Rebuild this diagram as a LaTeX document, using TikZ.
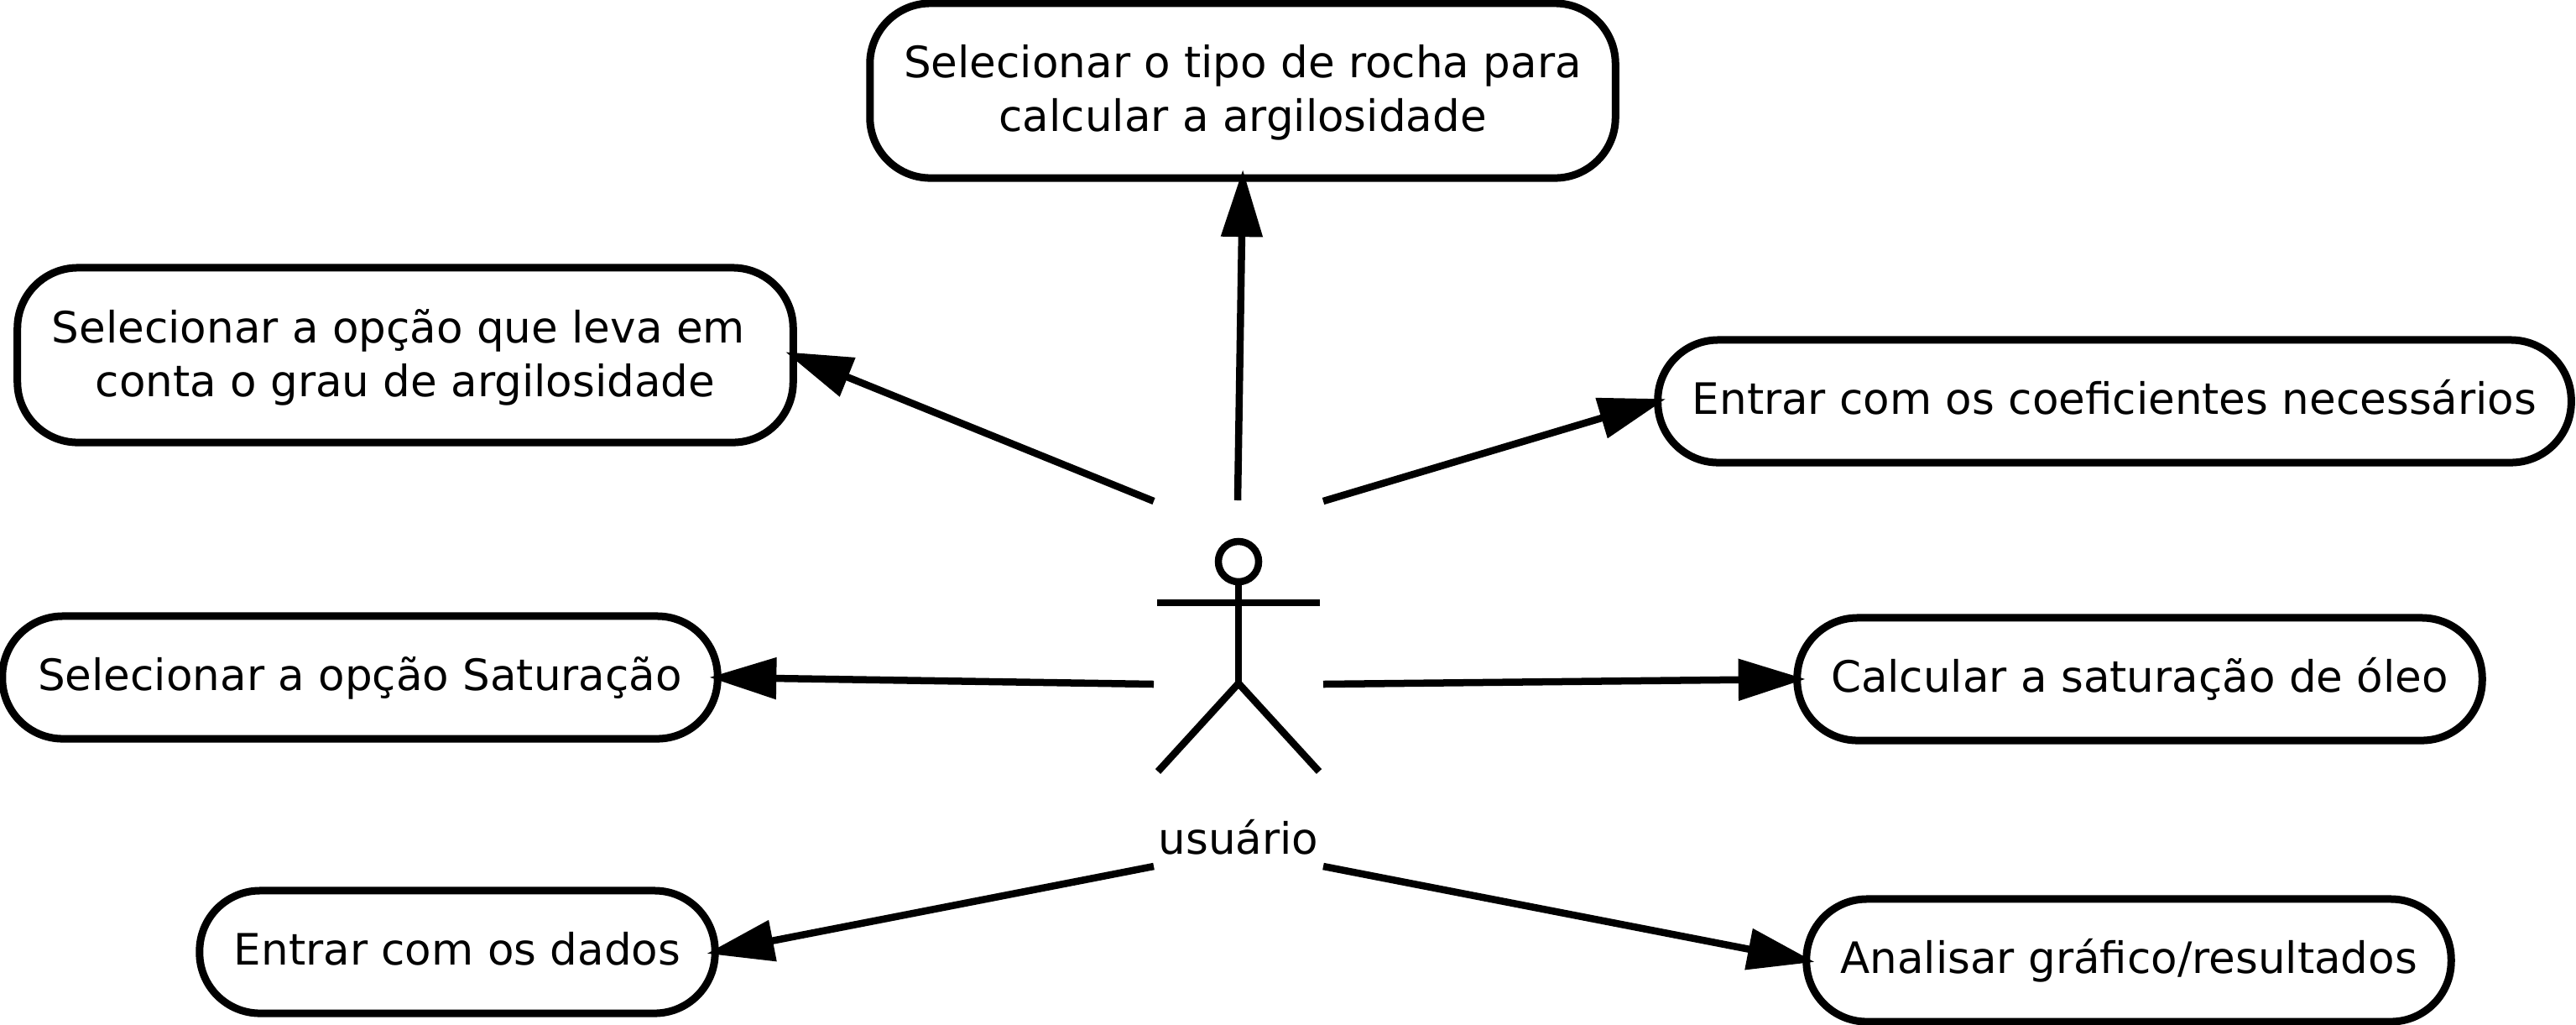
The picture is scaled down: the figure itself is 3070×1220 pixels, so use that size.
\documentclass[tikz,border=0pt]{standalone}
\usepackage{fontspec}
\setmainfont{DejaVu Sans}
\usetikzlibrary{arrows.meta}
\tikzset{
    usecase/.style={draw, line width=0.09cm, rounded corners=0.72cm, outer sep=0pt, inner sep=0pt, align=center, font=\fontsize{14.65}{18.2}\selectfont},
    oneline/.style={usecase, minimum height=1.46cm, text height=12.4pt, text depth=3.4pt},
    twolines/.style={usecase, minimum height=2.08cm, text depth=1.7pt},
    actorlabel/.style={inner sep=0pt, font=\fontsize{14.65}{18.2}\selectfont},
    actorline/.style={line width=0.085cm},
    assoc/.style={line width=0.085cm, -{Triangle[length=0.8cm, width=0.48cm]}, shorten >=-0.1cm}
}
\begin{document}
\begin{tikzpicture}[x=0.01cm, y=-0.01cm]
        \useasboundingbox (0,0) rectangle (3070,1220);

        % Nodes
        \node[twolines, minimum width=8.88cm] at (1481, 108)  (rocha)    {Selecionar o tipo de rocha para\\calcular a argilosidade};
        \node[twolines, minimum width=9.24cm] at (483, 423)   (grau)     {Selecionar a opção que leva em\ \mbox{}\\conta o grau de argilosidade};
        \node[oneline, minimum width=10.88cm] at (2520, 478)  (coef)     {Entrar com os coeficientes necessários};
        \node[oneline, minimum width=8.52cm] at (429, 807)    (satur)    {Selecionar a opção Saturação};
        \node[oneline, minimum width=8.16cm] at (2550, 809)   (oleo)     {Calcular a saturação de óleo};
        \node[oneline, minimum width=6.14cm] at (545, 1134)   (dados)    {Entrar com os dados};
        \node[oneline, minimum width=7.68cm] at (2537, 1144)  (grafico)  {Analisar gráfico/resultados};

        % Actor
        \node[circle, draw, line width=0.085cm, minimum size=0.48cm, inner sep=0pt, outer sep=0pt] at (1476, 669) (head) {};
        \coordinate (armL) at (1379, 718);
        \coordinate (armR) at (1573, 718);
        \coordinate (hip)  at (1476, 814);
        \coordinate (legL) at (1380, 919);
        \coordinate (legR) at (1572, 919);
        \node[actorlabel, anchor=base] at (1476, 1017) (usuario) {usuário};

        \draw[actorline] (head) -- (hip);
        \draw[actorline] (armL) -- (armR);
        \draw[actorline] (legL) -- (hip) -- (legR);

        % Arrow starts
        \coordinate (startUL) at (1375, 597);
        \coordinate (startU)  at (1475, 596);
        \coordinate (startUR) at (1577, 597);
        \coordinate (startL)  at (1375, 815);
        \coordinate (startR)  at (1577, 815);
        \coordinate (startDL) at (1375, 1032);
        \coordinate (startDR) at (1577, 1032);

        \draw[assoc] (startU)  -- (rocha.south);
        \draw[assoc] (startUL) -- (grau.east);
        \draw[assoc] (startUR) -- (coef.west);
        \draw[assoc] (startL)  -- (satur.east);
        \draw[assoc] (startR)  -- (oleo.west);
        \draw[assoc] (startDL) -- (dados.east);
        \draw[assoc] (startDR) -- (grafico.west);
    \end{tikzpicture}
\end{document}
